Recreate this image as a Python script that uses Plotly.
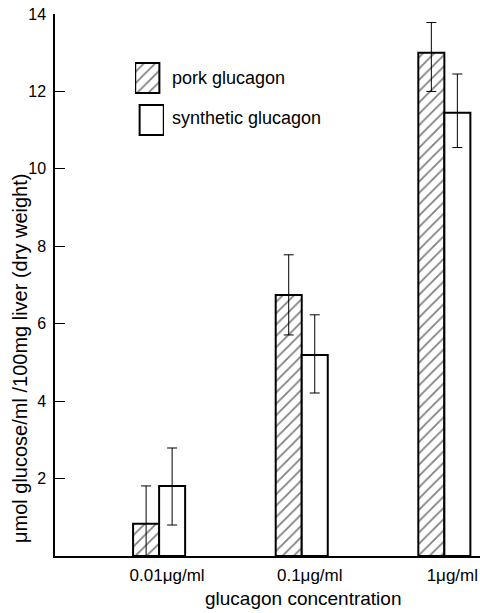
import plotly.graph_objects as go

categories = ["0.01μg/ml", "0.1μg/ml", "1μg/ml"]
pork = [0.83, 6.74, 13.0]
pork_err_plus = [0.98, 1.04, 0.78]
pork_err_minus = [0.83, 1.03, 1.0]
synthetic = [1.81, 5.19, 11.45]
synth_err_plus = [0.98, 1.04, 1.0]
synth_err_minus = [1.01, 0.98, 0.9]
series_names = ["pork glucagon", "synthetic glucagon"]
yticks = [2, 4, 6, 8, 10, 12, 14]

FONT = "Liberation Sans"
W, H = 480, 613
L, R, T, B = 55, 0, 14, 57
PW, PH = W - L - R, H - T - B

def px_x(p):
    return (p - L) / PW

def px_y(p):
    return (H - B - p) / PH

hatch = dict(shape="/", fgcolor="black", bgcolor="white", size=8, solidity=0.22)

fig = go.Figure()
fig.add_trace(go.Bar(
    x=categories, y=pork, name=series_names[0],
    marker=dict(color="white", line=dict(color="black", width=2), pattern=hatch),
    error_y=dict(type="data", symmetric=False, array=pork_err_plus, arrayminus=pork_err_minus,
                 color="black", thickness=1, width=5),
    showlegend=False,
))
fig.add_trace(go.Bar(
    x=categories, y=synthetic, name=series_names[1],
    marker=dict(color="white", line=dict(color="black", width=2)),
    error_y=dict(type="data", symmetric=False, array=synth_err_plus, arrayminus=synth_err_minus,
                 color="black", thickness=1, width=5),
    showlegend=False,
))

# legend swatches on an inset axis
fig.add_trace(go.Bar(
    x=[0], y=[30], base=[42], width=[1], xaxis="x2", yaxis="y2", showlegend=False,
    marker=dict(color="white", line=dict(color="black", width=2), pattern=hatch),
    hoverinfo="skip",
))
fig.add_trace(go.Bar(
    x=[0], y=[30], base=[0], width=[1], xaxis="x2", yaxis="y2", showlegend=False,
    marker=dict(color="white", line=dict(color="black", width=2)),
    hoverinfo="skip",
))

fig.update_layout(
    width=W, height=H,
    margin=dict(l=L, r=R, t=T, b=B),
    paper_bgcolor="white", plot_bgcolor="white",
    font=dict(family=FONT, color="black", size=15),
    barmode="group", bargap=0.635, bargroupgap=0,
    xaxis=dict(range=[-0.73, 2.25], showline=True, linecolor="black", linewidth=1.5,
               ticks="", showgrid=False, zeroline=False, tickfont=dict(size=17),
               ticklabelshift=8, ticklabelstandoff=3),
    yaxis=dict(range=[0, 14], tickvals=yticks, showline=True, linecolor="black", linewidth=1.5,
               ticks="inside", ticklen=10, tickcolor="black", tickwidth=1,
               showgrid=False, zeroline=False, tickfont=dict(size=16), ticklabelstandoff=4),
    xaxis2=dict(domain=[px_x(135), px_x(164)], range=[-0.6, 0.6], visible=False, fixedrange=True,
                anchor="y2"),
    yaxis2=dict(domain=[px_y(137), px_y(61)], range=[-2, 74], visible=False, fixedrange=True,
                anchor="x2"),
    annotations=[
        dict(text=series_names[0], xref="paper", yref="paper", x=px_x(170), y=px_y(78),
             xanchor="left", yanchor="middle", showarrow=False, font=dict(size=18)),
        dict(text=series_names[1], xref="paper", yref="paper", x=px_x(170), y=px_y(118),
             xanchor="left", yanchor="middle", showarrow=False, font=dict(size=18)),
        dict(text="μmol glucose/ml /100mg liver (dry weight)", xref="paper", yref="paper",
             x=px_x(20), y=px_y(359), textangle=-90, xanchor="center", yanchor="middle",
             showarrow=False, font=dict(size=20)),
        dict(text="glucagon concentration", xref="paper", yref="paper",
             x=px_x(303), y=px_y(598), xanchor="center", yanchor="middle",
             showarrow=False, font=dict(size=19)),
    ],
)

fig.write_html("out.html")
